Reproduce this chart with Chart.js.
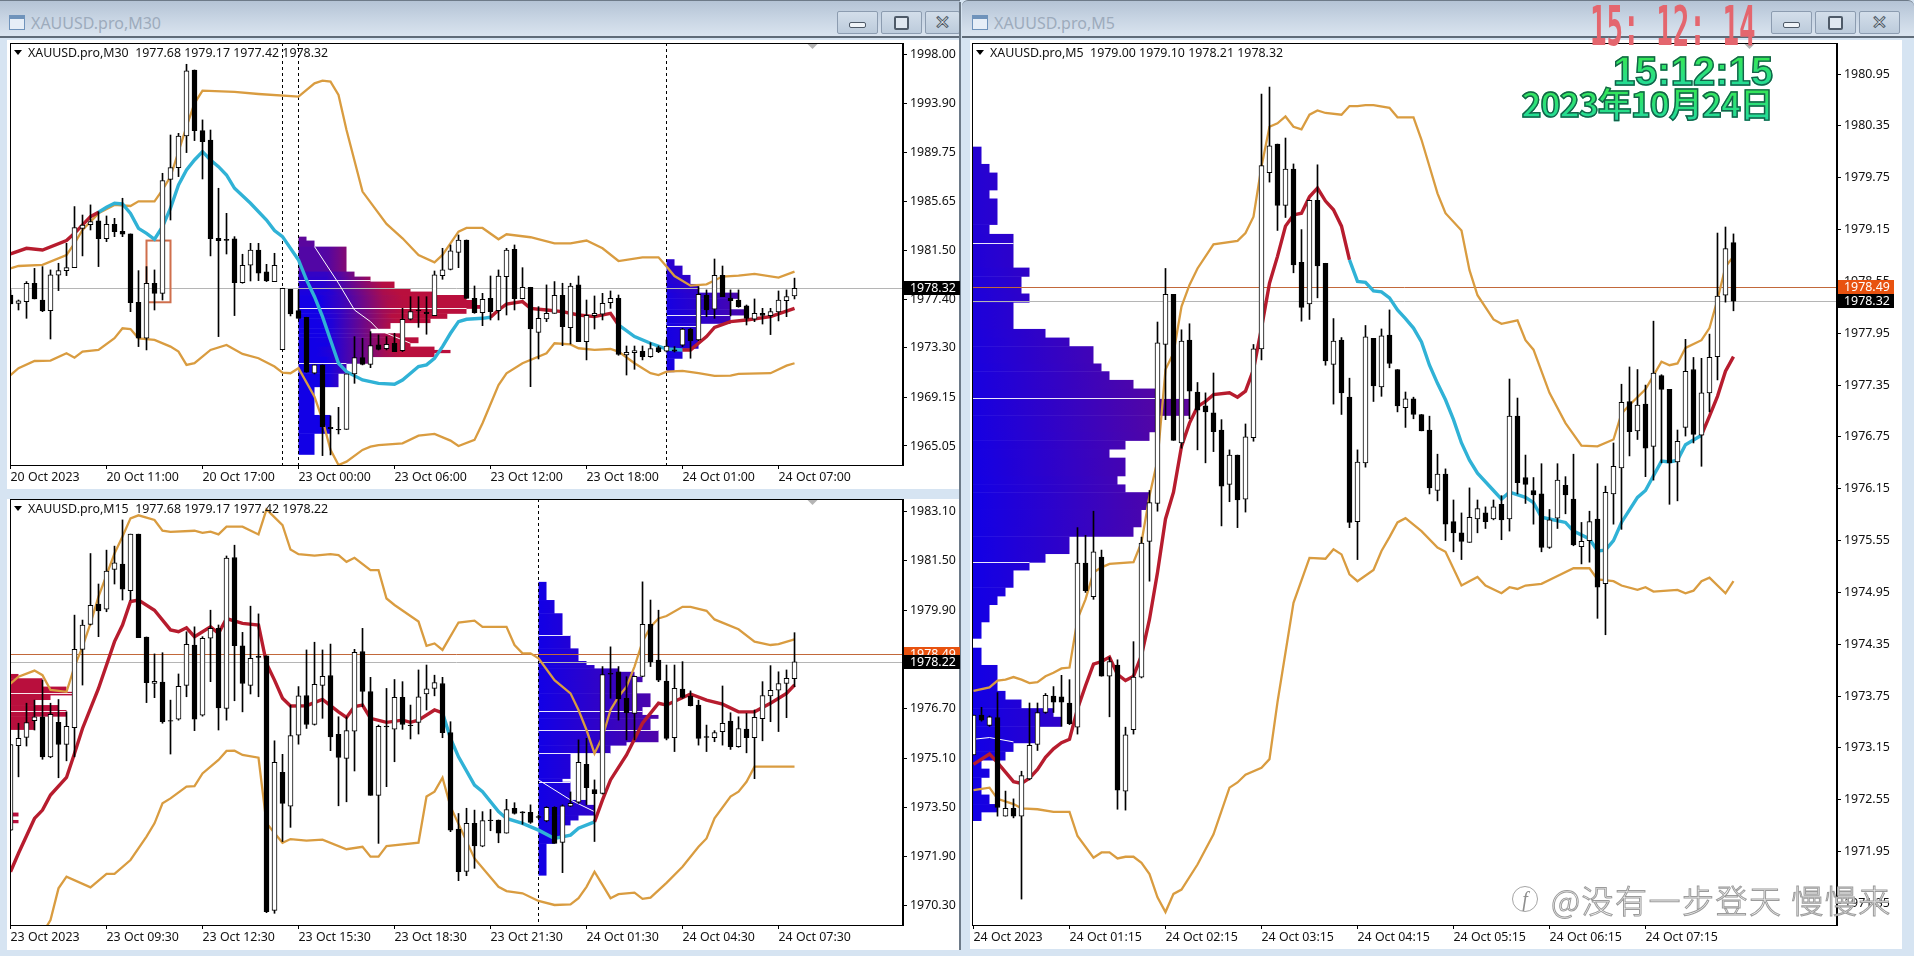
<!DOCTYPE html>
<html>
<head>
<meta charset="utf-8">
<title>XAUUSD</title>
<script src="https://cdn.jsdelivr.net/npm/chart.js@4"></script>
<style>
html, body { margin: 0; padding: 0; }
body { width: 1914px; height: 956px; position: relative; overflow: hidden; background: #d6e4f2; font-family: "Noto Sans", sans-serif; }
.win { position: absolute; background: #d6e4f2; }
.bar { position: absolute; left: 0; right: 0; top: 0; height: 38px; background: linear-gradient(#b4c3d5, #c6d3e2 45%, #dae4ef); border-top: 1px solid #6d7a88; border-bottom: 2px solid #5f6b78; box-sizing: border-box; }
.pane { position: absolute; background: #fff; }
.name { position: absolute; top: 11px; font-size: 16px; color: #9dabbc; line-height: 24px; }
.icon { position: absolute; top: 15px; width: 16px; height: 15px; border: 1px solid #6f93bb; background: #e6eef7; border-top-width: 4px; box-sizing: border-box; }
.btn { position: absolute; top: 11px; width: 41px; height: 23px; border: 1px solid #8c9cb0; box-sizing: border-box; background: linear-gradient(#d3deea, #bccbdb); border-radius: 2px; text-align: center; }
.btn i { position: absolute; box-sizing: border-box; }
.min i { left: 11px; top: 10px; width: 17px; height: 6px; background: #f0f4f8; border: 1px solid #4e5a68; border-radius: 2px; }
.max i { left: 12px; top: 4px; width: 15px; height: 14px; background: #dfe7f0; border: 2px solid #4e5a68; border-radius: 2px; }
.cls { font: bold 19px/21px "DejaVu Sans", sans-serif; color: #f4f7fa; -webkit-text-stroke: 1px #4e5a68; }
canvas { position: absolute; }
.led { position: absolute; left: 1590px; top: -6px; font: bold 55px/64px "DejaVu Sans Mono", monospace; color: #e4666e; transform: scaleX(.5); transform-origin: left top; white-space: pre; }
.clock { position: absolute; right: 141px; font-weight: bold; color: transparent; background: linear-gradient(#3bea3f, #1ed9ac); -webkit-background-clip: text; background-clip: text; -webkit-text-stroke: 1.4px #16604a; white-space: pre; }
.mark { position: absolute; left: 1551px; top: 877px; font: 300 32px/44px "Noto Sans CJK SC", sans-serif; color: #fff; -webkit-text-stroke: 1px #9b9b9b; letter-spacing: 1.5px; white-space: pre; }
.logo { position: absolute; left: 1512px; top: 886px; width: 24px; height: 24px; border: 1px solid #a5a5a5; border-radius: 50%; font: italic 20px/24px "Liberation Serif", serif; color: #8f8f8f; text-align: center; }
</style>
</head>
<body>
<div class="win" style="left:0;top:0;width:960px;height:490px">
  <div class="bar"></div><div class="icon" style="left:9px"></div><div class="name" style="left:31px">XAUUSD.pro,M30</div>
  <div class="btn min" style="left:837px"><i></i></div><div class="btn max" style="left:881px"><i></i></div><div class="btn cls" style="left:925px;width:35px">✕</div>
  <div class="pane" style="left:7px;top:40px;width:953px;height:449px"></div>
</div>
<div class="win" style="left:0;top:498px;width:960px;height:452px">
  <div class="pane" style="left:7px;top:1px;width:953px;height:451px"></div>
</div>
<div class="win" style="left:962px;top:0;width:952px;height:950px">
  <div class="bar" style="border-radius:6px 6px 0 0"></div><div class="icon" style="left:10px"></div><div class="name" style="left:32px">XAUUSD.pro,M5</div>
  <div class="btn min" style="left:809px"><i></i></div><div class="btn max" style="left:853px"><i></i></div><div class="btn cls" style="left:897px">✕</div>
  <div class="pane" style="left:8px;top:40px;width:932px;height:909px"></div>
</div>
<div style="position:absolute;left:959px;top:2px;width:2px;height:948px;background:#6d7a88"></div>
<canvas id="chart-m30" width="950" height="446" style="left:10px;top:43px"></canvas>
<canvas id="chart-m15" width="950" height="451" style="left:10px;top:499px"></canvas>
<canvas id="chart-m5" width="930" height="906" style="left:972px;top:43px"></canvas>
<div class="led">15: 12: 14</div>
<div class="clock" style="top:48px;font-size:40px;line-height:46px;font-family:'Liberation Sans',sans-serif">15:12:15</div>
<div class="clock" style="top:80px;font-size:34px;line-height:46px;font-family:'Noto Sans CJK SC',sans-serif;letter-spacing:-1px">2023年10月24日</div>
<div class="logo">f</div>
<div class="mark">@没有一步登天 慢慢来</div>

<script>
// M30
const m30Open = [1977.75,1977.05,1977.19,1978.74,1977.33,1976.44,1979.41,1979.80,1980.05,1983.36,
1983.67,1983.98,1982.49,1983.70,1983.11,1982.89,1977.14,1974.11,1978.74,1977.89,
1987.48,1988.47,1991.13,1996.68,1991.58,1990.79,1982.52,1982.44,1982.47,1978.79,
1980.25,1981.54,1979.69,1978.88,1973.16,1978.23,1976.44,1975.88,1971.17,1971.87,
1966.62,1966.45,1966.45,1971.11,1972.48,1971.92,1973.55,1973.24,1973.69,1973.07,
1975.71,1976.49,1976.30,1976.02,1979.38,1979.91,1981.34,1982.38,1977.47,1976.27,
1977.47,1976.44,1979.30,1981.60,1977.45,1978.40,1974.61,1975.73,1976.21,1977.73,
1975.01,1978.60,1973.83,1976.02,1976.13,1977.11,1977.47,1972.71,1972.90,1973.02,
1972.57,1973.32,1973.02,1973.13,1973.52,1974.89,1973.97,1977.73,1976.55,1979.41,
1977.50,1977.33,1976.83,1975.71,1976.21,1976.02,1976.32,1977.28,1977.68];
const m30High = [1978.18,1977.33,1978.88,1979.99,1980.14,1979.86,1980.42,1982.10,1985.19,1984.48,
1985.33,1984.76,1984.40,1984.20,1985.89,1982.89,1979.80,1980.14,1979.86,1987.99,
1991.21,1991.35,1997.16,1996.68,1992.48,1991.63,1986.73,1984.62,1982.66,1981.18,
1982.10,1982.10,1980.33,1981.26,1978.32,1978.23,1978.18,1975.88,1971.87,1971.87,
1967.58,1968.30,1971.11,1974.25,1974.11,1974.67,1974.39,1974.25,1974.53,1976.63,
1977.61,1977.61,1977.61,1979.77,1981.68,1981.96,1982.80,1982.38,1978.51,1977.89,
1979.35,1979.86,1981.68,1981.96,1980.05,1978.40,1976.77,1978.60,1978.88,1978.74,
1978.74,1979.35,1977.33,1977.67,1977.89,1978.09,1977.75,1973.46,1973.46,1973.46,
1973.74,1973.46,1973.97,1973.41,1974.95,1974.95,1978.46,1978.18,1980.78,1980.19,
1978.18,1978.18,1976.91,1977.42,1976.63,1976.63,1978.09,1978.18,1979.17];
const m30Low = [1977.00,1976.49,1975.79,1977.42,1976.35,1974.05,1978.12,1979.38,1980.05,1981.04,
1983.22,1980.14,1982.24,1982.66,1982.66,1976.35,1973.41,1973.13,1976.49,1977.33,
1984.06,1987.71,1989.73,1990.74,1987.51,1981.04,1974.25,1981.20,1976.02,1978.74,
1978.93,1978.96,1978.88,1978.88,1973.16,1975.99,1975.79,1971.25,1971.11,1964.24,
1964.30,1966.06,1966.45,1970.32,1971.87,1971.64,1973.13,1973.13,1972.99,1972.99,
1975.65,1975.03,1974.45,1976.02,1979.07,1979.86,1980.05,1977.47,1976.21,1975.17,
1975.65,1975.65,1976.07,1976.49,1977.42,1970.04,1972.37,1975.51,1976.21,1973.49,
1973.63,1973.83,1972.29,1974.89,1975.65,1976.63,1972.68,1971.02,1971.50,1972.29,
1972.51,1972.90,1972.96,1972.96,1973.41,1972.43,1973.91,1975.93,1975.79,1977.61,
1975.99,1976.72,1975.23,1975.51,1975.31,1974.42,1975.57,1975.93,1977.42];
const m30Close = [1977.00,1977.25,1978.74,1977.42,1976.41,1979.44,1979.80,1980.05,1983.42,1983.64,
1983.92,1982.49,1983.70,1983.08,1982.86,1977.11,1974.11,1978.74,1977.89,1987.37,
1988.47,1991.13,1996.60,1991.58,1990.65,1982.49,1982.33,1982.35,1978.79,1980.25,
1981.54,1979.58,1978.93,1980.25,1978.32,1976.16,1975.79,1971.25,1971.87,1966.68,
1966.51,1966.40,1971.11,1972.48,1971.92,1973.49,1973.18,1973.60,1972.99,1975.71,
1976.35,1976.44,1976.18,1979.44,1979.86,1981.46,1982.38,1977.47,1976.27,1977.39,
1976.35,1979.35,1981.54,1977.45,1978.40,1974.89,1975.79,1976.21,1977.73,1975.09,
1978.51,1973.83,1976.04,1976.21,1977.05,1977.47,1972.76,1972.93,1973.07,1972.57,
1973.24,1972.99,1973.46,1973.02,1974.89,1973.91,1977.81,1976.49,1979.41,1977.61,
1977.28,1976.77,1975.79,1976.21,1976.04,1976.35,1977.33,1977.61,1978.32];

const m30UpperBars = [0,1,4,7,8,9,11,13,15,16,18,19,20,22,23,24,28,31,36,38,39,40,41,42,44,47,49,51,53,54,56,57,59,61,62,65,68,70,72,74,76,79,81,82,83,85,87,89,91,93,96,98];
const m30Upper = [1979.99,1980.19,1980.28,1981.12,1982.10,1983.22,1984.62,1985.33,1985.24,1985.63,1985.63,1986.59,1987.71,1991.91,1993.88,1994.94,1994.83,1994.66,1994.44,1995.56,1995.78,1995.70,1994.58,1991.63,1986.45,1983.73,1982.52,1981.12,1980.50,1981.12,1983.08,1983.39,1983.39,1982.44,1982.86,1982.61,1982.10,1982.10,1982.33,1981.68,1980.61,1980.92,1980.92,1980.14,1979.35,1978.54,1978.65,1979.30,1979.38,1979.52,1979.21,1979.72];
const m30LowerBars = [0,1,3,5,7,8,9,11,13,14,15,16,18,20,21,22,23,25,27,29,31,33,34,35,36,38,39,40,41,42,44,45,46,49,51,53,55,56,58,59,61,62,64,67,68,70,71,73,75,76,78,80,81,82,84,86,88,90,91,95,97,98];
const m30Lower = [1971.02,1971.59,1972.20,1972.23,1972.85,1972.48,1972.99,1973.13,1974.11,1974.95,1974.89,1974.11,1973.97,1973.41,1972.99,1971.87,1972.01,1973.13,1973.55,1972.79,1972.43,1971.73,1971.22,1971.17,1971.59,1969.20,1967.24,1964.72,1963.45,1963.73,1964.72,1964.99,1965.13,1965.27,1965.92,1966.06,1965.50,1965.05,1965.56,1966.96,1970.18,1971.17,1972.01,1972.85,1973.69,1973.60,1973.27,1973.13,1973.21,1972.99,1972.01,1971.17,1971.02,1971.30,1971.36,1971.17,1970.94,1970.97,1971.11,1971.17,1971.81,1972.01];
const m30MaBars = [0,2,4,7,8,10,11,12,13,14,15,16,17,18,19,20,21,22,23,24,25,26,27,28,30,32,33,34,36,37,38,39,40,41,42,44,46,48,49,51,52,53,54,55,56,57,59,60,61,62,64,65,67,69,71,73,75,76,78,80,82,84,85,86,87,88,90,92,95,98];
const m30Ma = [1981.20,1981.68,1981.54,1982.33,1982.94,1984.34,1984.71,1985.13,1985.47,1985.41,1984.62,1983.36,1982.94,1982.44,1983.50,1985.05,1987.01,1988.27,1989.11,1989.81,1989.11,1988.55,1987.85,1986.73,1985.47,1984.06,1983.17,1982.66,1980.70,1979.02,1977.61,1975.93,1973.97,1972.01,1971.30,1970.60,1970.32,1970.24,1970.60,1971.73,1971.87,1972.43,1973.41,1974.53,1975.51,1975.71,1975.79,1975.88,1976.49,1976.99,1977.19,1976.63,1976.49,1976.35,1976.07,1975.93,1976.21,1975.23,1974.25,1973.69,1973.21,1973.13,1973.13,1973.69,1974.25,1975.03,1975.51,1975.65,1975.93,1976.63];
const m30MaBlue = [[11,60],[76,84]];
const m30CurveBars = [38,41,43,45,46,50];
const m30Curve = [1981.82,1978.74,1976.49,1975.51,1974.81,1973.69];
const m30ProfileALevels = [1982.66,1982.33,1981.82,1979.72,1979.30,1978.88,1978.32,1978.04,1977.75,1977.33,1976.91,1976.63,1976.21,1975.79,1975.43,1974.95,1974.53,1974.19,1973.74,1973.41,1973.13,1972.90,1972.57,1972.01,1971.17,1970.04,1967.66,1966.12,1964.35];
const m30ProfileAEnds = [37,38,42,43,45,48,50,53,57,58.3,58.75,57,54.6,52.5,47.5,45,48.75,51,50,53,55,53,45,42,41,38,40,38];
const m30ProfileAMarks = [1979.01,1978.32,1976.63,1972.01];
const m30ProfileBLevels = [1980.76,1980.22,1979.44,1978.68,1977.95,1977.47,1976.55,1976.07,1975.37,1973.27,1972.43,1971.30];
const m30ProfileBEnds = [83,84,85,86,91,90,92,90,86,84,83];
const m30ProfileBMarks = [1978.32,1976.07,1975.17];
const m30YTicks = [1998.00,1993.90,1989.75,1985.65,1981.50,1977.40,1973.30,1969.15,1965.05];
const m30XLabels = ['20 Oct 2023','20 Oct 11:00','20 Oct 17:00','23 Oct 00:00','23 Oct 06:00','23 Oct 12:00','23 Oct 18:00','24 Oct 01:00','24 Oct 07:00'];

// M15
const m15Open = [1972.76,1975.50,1975.77,1976.31,1976.44,1975.14,1976.26,1975.54,1976.09,1978.63,
1979.44,1980.10,1979.93,1981.22,1981.40,1980.53,1982.37,1979.03,1977.52,1977.57,
1976.32,1976.36,1977.46,1978.77,1976.49,1978.99,1979.31,1976.71,1981.61,1978.74,
1977.46,1978.41,1978.42,1970.15,1974.64,1973.54,1975.84,1977.13,1976.19,1977.46,
1977.78,1975.87,1975.09,1975.97,1978.56,1977.26,1973.89,1976.14,1976.04,1977.07,
1976.17,1976.26,1977.18,1977.36,1977.52,1975.93,1972.79,1971.42,1972.98,1972.24,
1973.09,1973.09,1972.66,1973.47,1973.35,1973.34,1973.20,1973.06,1973.50,1972.36,
1973.54,1973.67,1974.90,1974.08,1973.95,1977.85,1977.90,1977.04,1976.55,1977.75,
1979.44,1978.28,1977.60,1975.76,1977.34,1977.11,1976.82,1975.80,1975.76,1975.96,
1976.30,1975.47,1976.04,1975.76,1976.38,1977.12,1977.30,1977.52,1977.68];
const m15High = [1975.54,1976.23,1976.88,1976.98,1977.63,1976.88,1977.00,1976.60,1979.74,1979.58,
1981.74,1980.75,1981.85,1981.98,1982.83,1982.37,1982.37,1979.03,1978.48,1978.52,
1976.98,1977.83,1979.20,1979.36,1979.04,1979.90,1979.42,1981.66,1982.01,1979.18,
1980.03,1979.78,1978.42,1975.66,1975.22,1976.82,1977.42,1978.61,1978.86,1978.61,
1978.80,1976.44,1976.44,1978.63,1979.31,1977.72,1976.17,1977.36,1977.65,1977.58,
1976.82,1977.96,1978.12,1977.79,1977.72,1976.28,1973.30,1973.47,1973.41,1973.36,
1973.43,1973.09,1973.76,1973.65,1973.36,1973.58,1973.25,1973.52,1973.52,1973.58,
1974.00,1975.69,1975.74,1974.39,1978.07,1978.71,1978.07,1977.74,1977.76,1980.82,
1980.23,1979.90,1978.12,1978.12,1978.23,1977.28,1976.98,1976.17,1975.99,1977.44,
1976.57,1976.44,1976.55,1976.66,1977.58,1978.10,1977.90,1977.96,1979.17];
const m15Low = [1972.74,1974.49,1975.49,1976.01,1975.06,1975.11,1974.46,1975.01,1975.14,1977.47,
1979.42,1979.04,1979.85,1980.75,1980.23,1980.23,1979.01,1976.90,1977.06,1976.23,
1975.23,1976.33,1977.09,1975.99,1976.46,1977.58,1976.01,1976.33,1976.96,1976.60,
1977.18,1977.09,1970.08,1970.06,1972.39,1972.85,1975.55,1976.06,1976.17,1976.39,
1975.34,1973.55,1973.68,1974.68,1976.77,1973.89,1972.33,1974.17,1974.98,1976.03,
1975.72,1975.88,1976.66,1977.12,1975.76,1972.71,1971.12,1971.28,1971.52,1972.22,
1972.74,1972.35,1972.66,1973.28,1972.95,1972.98,1973.14,1973.03,1972.33,1971.38,
1973.52,1973.63,1973.58,1972.39,1973.93,1977.04,1976.33,1975.69,1975.69,1977.74,
1978.07,1977.58,1975.69,1975.31,1977.04,1976.79,1975.52,1975.31,1975.63,1975.52,
1975.38,1975.45,1975.27,1974.43,1975.66,1976.28,1975.96,1976.41,1977.42];
const m15Close = [1975.54,1975.74,1976.25,1976.44,1975.14,1976.52,1975.54,1976.13,1978.63,1979.42,
1980.06,1979.88,1981.17,1981.44,1980.58,1982.37,1979.01,1977.55,1977.59,1976.28,
1976.30,1977.43,1978.79,1976.36,1978.99,1979.31,1976.73,1981.59,1978.75,1977.52,
1978.34,1978.37,1970.11,1974.96,1973.63,1975.83,1977.12,1976.19,1977.49,1977.75,
1975.79,1975.12,1975.99,1978.53,1977.26,1973.89,1976.13,1976.11,1977.07,1976.19,
1976.15,1977.09,1977.35,1977.55,1975.92,1972.76,1971.41,1972.98,1972.25,1973.07,
1973.07,1972.66,1973.43,1973.30,1973.32,1973.01,1973.17,1973.50,1972.33,1973.55,
1973.63,1974.96,1974.14,1973.94,1977.81,1977.82,1977.02,1976.57,1977.75,1979.44,
1978.22,1977.63,1975.74,1977.36,1977.07,1976.80,1975.74,1975.77,1975.93,1976.23,
1975.47,1976.06,1975.76,1976.42,1977.13,1977.30,1977.52,1977.69,1978.22];

const m15UpperBars = [0,1,3,4,5,7,8,9,10,11,13,14,15,16,18,19,20,23,24,25,26,27,29,31,32,34,35,36,38,40,41,42,43,45,46,47,48,51,52,53,54,56,58,59,62,63,64,65,66,68,70,71,72,73,74,75,76,77,78,79,80,81,82,84,85,87,88,91,93,95,96,98];
const m15Upper = [1977.52,1977.74,1977.94,1977.79,1977.31,1977.25,1978.07,1978.71,1979.47,1980.34,1981.74,1982.29,1982.88,1982.98,1982.83,1982.48,1982.44,1982.48,1982.41,1982.45,1982.36,1982.61,1982.61,1982.36,1983.17,1982.66,1981.87,1981.72,1981.67,1981.72,1981.69,1981.47,1981.60,1981.20,1981.20,1980.28,1980.07,1979.53,1978.74,1978.82,1978.61,1979.50,1979.56,1979.36,1979.36,1978.77,1978.50,1978.50,1978.34,1977.63,1977.20,1976.66,1976.01,1975.25,1975.79,1976.66,1977.09,1977.42,1978.07,1978.88,1979.36,1979.63,1979.71,1980.01,1980.01,1979.88,1979.60,1979.28,1978.88,1978.77,1978.80,1978.95];
const m15LowerBars = [4,5,6,7,10,12,13,15,17,18,19,20,22,23,24,26,27,28,29,31,32,34,35,37,39,42,44,45,46,47,51,52,53,54,55,58,61,62,64,66,68,70,71,72,73,74,75,76,78,79,80,82,84,86,87,88,90,91,92,93,98];
const m15Lower = [1969.41,1969.84,1970.87,1971.25,1970.90,1971.34,1971.34,1971.79,1972.55,1972.98,1973.63,1973.79,1974.17,1974.19,1974.60,1975.04,1975.33,1975.34,1975.20,1975.11,1972.98,1972.35,1972.47,1972.42,1972.45,1972.14,1972.22,1971.90,1971.90,1972.24,1972.35,1973.85,1974.01,1974.46,1973.52,1971.84,1970.92,1970.78,1970.71,1970.46,1970.33,1970.35,1970.55,1970.92,1971.41,1970.98,1970.55,1970.68,1970.73,1970.53,1970.57,1971.05,1971.57,1972.22,1972.49,1973.14,1973.85,1974.01,1974.33,1974.82,1974.82];
const m15MaBars = [0,1,3,4,5,7,8,9,11,13,14,15,16,18,20,21,22,23,25,26,27,29,31,32,33,34,35,37,39,41,42,43,44,45,47,49,50,51,53,54,55,56,58,59,61,62,64,66,68,70,71,73,74,75,77,79,81,82,85,87,89,91,93,95,97,98];
const m15Ma = [1971.41,1972.01,1973.14,1973.41,1973.90,1974.47,1975.25,1976.06,1977.36,1978.88,1979.42,1980.18,1980.23,1979.90,1979.26,1979.20,1979.33,1979.04,1979.36,1979.15,1979.63,1979.47,1979.42,1978.17,1977.63,1977.04,1976.79,1976.80,1977.00,1976.60,1976.42,1976.77,1976.82,1976.39,1976.26,1976.33,1976.26,1976.33,1976.66,1976.57,1975.74,1975.14,1974.22,1974.01,1973.36,1973.14,1972.98,1972.76,1972.49,1972.60,1972.82,1973.03,1973.74,1974.39,1975.20,1976.23,1976.88,1976.82,1977.18,1976.98,1976.85,1976.60,1976.60,1976.88,1977.20,1977.47];
const m15MaBlue = [[54,73]];
const m15CurveBars = [66,70,73];
const m15Curve = [1974.39,1973.74,1973.36];
const m15ProfileALevels = [1977.83,1977.69,1977.42,1977.25,1977.15,1977.00,1976.82,1976.66,1976.46,1976.03,1973.33,1973.22,1973.09,1973.00];
const m15ProfileAEnds = [1,4,7,7.7,5,3,6,7,3,-1,1,-1,1];
const m15ProfileAMarks = [1977.20,1976.63];
const m15ProfileBLevels = [1980.82,1980.23,1979.80,1979.09,1978.66,1978.25,1978.12,1978.01,1977.90,1977.74,1977.58,1977.20,1976.77,1976.50,1976.39,1976.01,1975.63,1975.52,1975.25,1974.44,1974.33,1973.74,1973.58,1973.25,1973.09,1972.93,1972.55,1972.33,1971.30];
const m15ProfileBEnds = [67,68,69,70,71,72,73,76,78,79,78,80,79,81,80,81,77,75,70,69,70,72,73,71,70,69,68,67];
const m15ProfileBMarks = [1979.09,1976.63,1976.01,1975.28,1974.32];
const m15YTicks = [1983.10,1981.50,1979.90,1978.30,1976.70,1975.10,1973.50,1971.90,1970.30];
const m15XLabels = ['23 Oct 2023','23 Oct 09:30','23 Oct 12:30','23 Oct 15:30','23 Oct 18:30','23 Oct 21:30','24 Oct 01:30','24 Oct 04:30','24 Oct 07:30'];

// M5
const m5Open = [1973.07,1973.53,1973.41,1973.50,1972.36,1972.45,1972.36,1972.79,1973.19,1973.56,
1973.75,1973.74,1973.67,1973.39,1975.29,1974.90,1975.36,1973.98,1974.11,1972.65,
1973.36,1973.97,1975.54,1975.98,1977.82,1978.40,1976.68,1977.87,1977.27,1977.11,
1977.03,1976.83,1976.20,1976.54,1976.03,1976.74,1977.77,1979.81,1980.14,1979.43,
1979.85,1978.77,1978.29,1979.49,1978.76,1977.59,1977.87,1977.21,1975.77,1976.45,
1977.89,1977.33,1977.93,1977.53,1977.09,1977.19,1977.01,1976.83,1976.13,1976.32,
1975.77,1975.64,1975.53,1975.80,1975.87,1975.80,1975.97,1975.80,1976.99,1976.28,
1976.13,1976.09,1975.47,1975.81,1976.19,1976.03,1975.48,1975.55,1975.80,1975.05,
1976.09,1976.39,1977.16,1976.82,1977.13,1976.64,1977.46,1977.30,1976.46,1976.86,
1977.53,1976.77,1977.26,1977.68,1978.39,1979.00];
const m5High = [1973.53,1973.62,1973.52,1973.79,1972.65,1972.56,1972.88,1973.67,1973.67,1973.78,
1973.86,1973.99,1973.94,1975.70,1975.61,1975.89,1975.44,1974.20,1974.17,1973.39,
1974.38,1975.59,1976.13,1978.08,1978.70,1978.40,1977.99,1978.06,1977.38,1977.26,
1977.49,1976.95,1976.60,1976.54,1976.90,1977.82,1980.72,1980.80,1980.14,1980.21,
1979.91,1979.15,1979.49,1979.90,1978.76,1978.12,1977.90,1977.43,1976.60,1978.04,
1977.89,1978.00,1978.22,1977.53,1977.27,1977.21,1977.01,1976.99,1976.55,1976.38,
1976.02,1975.87,1976.16,1976.02,1975.94,1976.02,1976.07,1977.42,1977.20,1976.54,
1976.28,1976.44,1975.91,1976.44,1976.29,1976.55,1975.76,1975.89,1976.44,1976.18,
1976.68,1977.36,1977.56,1977.53,1977.35,1978.09,1977.47,1977.30,1976.83,1977.88,
1977.67,1977.66,1977.94,1979.11,1979.18,1979.10];
const m5Low = [1973.07,1973.46,1973.40,1972.36,1972.36,1972.34,1971.40,1972.78,1973.12,1973.55,
1973.56,1973.40,1973.42,1973.31,1974.95,1974.87,1973.98,1973.51,1972.44,1972.43,
1973.31,1973.96,1975.08,1975.89,1976.95,1976.71,1976.62,1976.96,1976.60,1976.45,
1976.58,1975.72,1976.00,1975.70,1975.88,1976.70,1977.64,1979.70,1979.14,1979.29,
1978.65,1978.09,1978.11,1978.36,1977.58,1977.13,1977.01,1975.70,1975.33,1976.40,
1977.16,1977.22,1977.55,1977.04,1976.86,1976.96,1976.82,1976.09,1976.01,1975.55,
1975.42,1975.33,1975.53,1975.64,1975.69,1975.79,1975.56,1975.66,1976.09,1975.98,
1975.74,1975.42,1975.46,1975.69,1975.86,1975.49,1975.28,1975.30,1974.65,1974.46,
1975.74,1975.68,1976.53,1976.72,1976.29,1976.25,1976.45,1975.97,1976.01,1976.76,
1976.68,1976.41,1977.04,1977.41,1978.31,1978.21];
const m5Close = [1973.53,1973.47,1973.51,1972.46,1972.45,1972.36,1972.83,1973.18,1973.56,1973.76,
1973.68,1973.68,1973.43,1975.29,1974.97,1975.42,1973.98,1974.15,1972.66,1973.30,
1973.97,1975.52,1975.99,1977.84,1978.40,1976.71,1977.86,1977.28,1977.06,1977.04,
1976.81,1976.18,1976.54,1976.02,1976.75,1977.77,1979.89,1980.12,1979.43,1979.85,
1978.74,1978.25,1979.49,1978.73,1977.63,1977.86,1977.26,1975.76,1976.46,1977.91,
1977.34,1977.92,1977.60,1977.11,1977.19,1977.01,1976.82,1976.16,1976.32,1975.74,
1975.64,1975.54,1975.82,1975.92,1975.77,1975.94,1975.79,1976.99,1976.22,1976.20,
1976.08,1975.47,1975.79,1976.25,1976.08,1975.50,1975.54,1975.77,1975.01,1976.11,
1976.41,1977.15,1976.81,1977.12,1976.62,1977.49,1977.30,1976.45,1976.70,1977.51,
1976.78,1977.26,1977.67,1978.38,1978.93,1978.32];

const m5UpperBars = [0,2,3,4,5,6,7,8,9,10,11,12,13,14,15,16,17,20,21,22,23,24,25,26,27,28,30,33,34,35,36,37,38,39,40,41,42,43,44,46,47,48,49,50,52,53,55,56,57,58,59,61,62,63,65,66,68,69,70,72,74,76,78,80,81,82,84,86,87,88,89,91,92,93,94,95];
const m5Upper = [1973.81,1973.85,1973.93,1973.94,1973.97,1973.94,1973.90,1973.91,1973.98,1974.02,1974.07,1974.08,1974.64,1974.87,1975.18,1975.24,1975.28,1975.30,1975.53,1976.07,1976.48,1977.53,1977.72,1978.26,1978.51,1978.70,1978.98,1979.02,1979.11,1979.30,1979.88,1980.34,1980.38,1980.46,1980.34,1980.31,1980.48,1980.53,1980.50,1980.48,1980.58,1980.58,1980.59,1980.59,1980.56,1980.45,1980.45,1980.19,1979.88,1979.57,1979.34,1979.14,1978.68,1978.39,1978.11,1978.06,1978.10,1977.87,1977.76,1977.26,1976.91,1976.65,1976.64,1976.72,1977.02,1977.12,1977.30,1977.62,1977.58,1977.60,1977.78,1977.87,1978.01,1978.34,1978.72,1978.84];
const m5LowerBars = [0,2,3,5,6,8,10,12,13,15,16,17,18,19,20,21,22,23,24,25,26,28,30,32,33,34,36,37,38,40,42,44,45,46,47,48,50,51,52,53,54,56,58,59,61,63,64,66,67,68,69,71,73,75,77,78,80,81,83,84,85,88,89,90,91,92,94,95];
const m5Lower = [1972.66,1972.69,1972.56,1972.50,1972.45,1972.44,1972.41,1972.41,1972.13,1971.88,1971.94,1971.94,1971.87,1971.89,1971.89,1971.82,1971.69,1971.42,1971.25,1971.46,1971.51,1971.80,1972.15,1972.69,1972.75,1972.84,1972.92,1973.02,1973.68,1974.83,1975.35,1975.34,1975.45,1975.39,1975.16,1975.08,1975.21,1975.43,1975.59,1975.76,1975.81,1975.66,1975.47,1975.42,1975.03,1975.13,1975.03,1974.94,1975.01,1974.99,1975.03,1975.05,1975.14,1975.23,1975.23,1975.10,1975.08,1975.03,1974.98,1975.01,1974.96,1974.98,1974.94,1974.97,1975.08,1975.12,1974.94,1975.08];
const m5MaBars = [0,2,3,4,5,6,7,8,9,10,11,12,13,14,15,16,17,18,19,20,21,22,23,24,25,26,27,28,29,30,32,33,34,35,36,37,38,39,40,41,42,43,44,45,46,47,48,49,50,51,52,53,54,55,56,57,58,59,60,61,62,63,65,66,67,69,70,71,72,74,75,77,78,79,80,81,83,84,85,86,87,88,89,91,92,93,94,95];
const m5Ma = [1972.96,1973.08,1972.98,1972.87,1972.76,1972.74,1972.80,1972.90,1973.04,1973.14,1973.21,1973.25,1973.60,1973.87,1974.12,1974.15,1974.20,1974.00,1973.93,1973.98,1974.22,1974.64,1975.18,1975.80,1976.11,1976.64,1976.91,1977.10,1977.16,1977.24,1977.26,1977.21,1977.28,1977.53,1978.01,1978.53,1978.84,1979.19,1979.32,1979.34,1979.53,1979.63,1979.48,1979.38,1979.19,1978.80,1978.55,1978.54,1978.44,1978.43,1978.36,1978.22,1978.12,1978.01,1977.85,1977.58,1977.37,1977.18,1976.95,1976.68,1976.48,1976.33,1976.13,1976.03,1976.11,1976.05,1975.99,1975.82,1975.80,1975.76,1975.66,1975.57,1975.43,1975.44,1975.55,1975.76,1976.05,1976.13,1976.30,1976.47,1976.46,1976.48,1976.66,1976.77,1976.99,1977.22,1977.51,1977.68];
const m5MaBlue = [[47,91]];
const m5CurveBars = [0,2,5];
const m5Curve = [1973.25,1973.27,1973.22];
const m5ProfileLevels = [1980.11,1979.91,1979.81,1979.61,1979.51,1979.21,1979.10,1978.71,1978.61,1978.41,1978.31,1978.00,1977.90,1977.80,1977.60,1977.51,1977.41,1977.31,1977.20,1977.00,1976.81,1976.71,1976.61,1976.51,1976.30,1976.20,1976.11,1975.91,1975.71,1975.60,1975.40,1975.30,1975.21,1975.01,1974.91,1974.81,1974.61,1974.42,1974.31,1974.11,1973.81,1973.71,1973.61,1973.51,1973.40,1973.21,1973.11,1973.01,1972.91,1972.81,1972.61,1972.50,1972.41,1972.31];
const m5ProfileEnds = [1,2,3,2,3,2,5,7,6,7,5,9,12,15,16,17,20,23,27,23,22,19,17,19,18,19,22,21,20,12,9,7,5,4,3,2,1,-1,1,3,4,6,10,11,8,5,4,1,2,1,2,3,1];
const m5ProfileMarks = [1979.00,1977.20,1975.30];
const m5YTicks = [1980.95,1980.35,1979.75,1979.15,1978.55,1977.95,1977.35,1976.75,1976.15,1975.55,1974.95,1974.35,1973.75,1973.15,1972.55,1971.95,1971.35];
const m5XLabels = ['24 Oct 2023','24 Oct 01:15','24 Oct 02:15','24 Oct 03:15','24 Oct 04:15','24 Oct 05:15','24 Oct 06:15','24 Oct 07:15'];

const colors = {
    band: '#d99c40',
    red: '#b71c2e',
    blue: '#30b2d6',
    bull: '#ffffff',
    bear: '#000000',
    last: '#b5b5b5',
    ask: '#c2683a',
    askTag: '#e8520f',
    text: '#111111'
};
const FONT = '"Noto Sans", sans-serif';
const FONT_SIZE = 12.4;

Chart.defaults.font.family = FONT;
Chart.defaults.font.size = FONT_SIZE;
Chart.defaults.color = colors.text;

function mixColor(t) {
    // blue -> crimson, same ramp the volume profile uses
    const k = Math.max(0, Math.min(0.92, t));
    const r = Math.round(18 + (200 - 18) * k);
    const g = Math.round(0 + (16 - 0) * k);
    const b = Math.round(230 + (46 - 230) * k);
    return `rgb(${r},${g},${b})`;
}

function drawProfile(ctx, xs, ys, p) {
    const x0 = xs.getPixelForValue(p.start);
    p.ends.forEach((end, r) => {
        if (end <= p.start) return;
        const top = ys.getPixelForValue(p.levels[r]);
        const bottom = ys.getPixelForValue(p.levels[r + 1]);
        const x1 = xs.getPixelForValue(end);
        const lift = p.lift * Math.max(0, (p.levels[r] - p.liftFrom) / (p.levels[0] - p.liftFrom));
        const g = ctx.createLinearGradient(x0, 0, x1, 0);
        for (let s = 0; s <= 8; s++) {
            const bars = (end - p.start) * s / 8;
            g.addColorStop(s / 8, mixColor(p.base + lift + p.gain * Math.max(0, bars - p.flat)));
        }
        ctx.fillStyle = g;
        ctx.fillRect(x0, top, x1 - x0, bottom - top + 0.5);
    });
    ctx.fillStyle = 'rgba(255,255,255,0.9)';
    p.marks.forEach(price => {
        const r = p.levels.findIndex((lv, i) => lv >= price && p.levels[i + 1] < price);
        if (r < 0) return;
        const x1 = xs.getPixelForValue(p.ends[r]);
        ctx.fillRect(x0, Math.round(ys.getPixelForValue(price)), x1 - x0, 1);
    });
}

function decorPlugin(cfg) {
    return {
        id: 'decor',
        beforeDatasetsDraw(chart) {
            const { ctx, chartArea: a, scales: { x: xs, y: ys } } = chart;
            ctx.save();
            ctx.beginPath();
            ctx.rect(a.left, a.top, a.right - a.left, a.bottom - a.top);
            ctx.clip();
            cfg.profiles.forEach(p => drawProfile(ctx, xs, ys, p));
            cfg.hLines.forEach(l => {
                const y = Math.round(ys.getPixelForValue(l.value)) + 0.5;
                ctx.strokeStyle = l.color;
                ctx.lineWidth = 1;
                ctx.beginPath();
                ctx.moveTo(a.left, y);
                ctx.lineTo(a.right, y);
                ctx.stroke();
            });
            ctx.strokeStyle = '#000';
            ctx.lineWidth = 1;
            ctx.setLineDash([3, 3]);
            cfg.vLines.forEach(bar => {
                const x = Math.round(xs.getPixelForValue(bar) - 0.5) + 0.5;
                ctx.beginPath();
                ctx.moveTo(x, a.top);
                ctx.lineTo(x, a.bottom);
                ctx.stroke();
            });
            ctx.setLineDash([]);
            if (cfg.box) {
                ctx.strokeStyle = '#cf6f4c';
                ctx.lineWidth = 2;
                const bx = xs.getPixelForValue(cfg.box.from);
                const by = ys.getPixelForValue(cfg.box.top);
                ctx.strokeRect(bx, by, xs.getPixelForValue(cfg.box.to) - bx, ys.getPixelForValue(cfg.box.bottom) - by);
            }
            ctx.restore();
        },
        afterDraw(chart) {
            const { ctx, chartArea: a, scales: { x: xs, y: ys } } = chart;
            ctx.save();
            // frame
            ctx.strokeStyle = '#000';
            ctx.lineWidth = 1;
            ctx.strokeRect(a.left + 0.5, a.top + 0.5, a.right - a.left - 1, a.bottom - a.top);
            // shift marker
            const sx = xs.getPixelForValue(cfg.shiftBar);
            ctx.fillStyle = '#b4b4b4';
            ctx.beginPath();
            ctx.moveTo(sx - 5, a.top + 1);
            ctx.lineTo(sx + 5, a.top + 1);
            ctx.lineTo(sx, a.top + 6);
            ctx.fill();
            // title
            ctx.fillStyle = '#000';
            ctx.beginPath();
            ctx.moveTo(a.left + 4, a.top + 7);
            ctx.lineTo(a.left + 12, a.top + 7);
            ctx.lineTo(a.left + 8, a.top + 12);
            ctx.fill();
            ctx.font = `${FONT_SIZE}px ${FONT}`;
            ctx.textBaseline = 'middle';
            ctx.textAlign = 'left';
            ctx.fillStyle = colors.text;
            ctx.fillText(cfg.title, a.left + 18, a.top + 10);
            // price tags
            cfg.tags.forEach(t => {
                const y = ys.getPixelForValue(t.value);
                ctx.fillStyle = t.color;
                ctx.fillRect(a.right + 1, Math.round(y) - 7, 56, 14);
                ctx.fillStyle = '#fff';
                ctx.fillText(t.value.toFixed(2), a.right + 7, y + 0.5);
            });
            ctx.restore();
        }
    };
}

function lineSeries(bars, values, color, width, order) {
    return {
        type: 'line',
        data: bars.map((b, i) => ({ x: b, y: values[i] })),
        borderColor: color,
        borderWidth: width,
        pointRadius: 0,
        tension: 0,
        order
    };
}

function maSeries(bars, values, blue) {
    const s = lineSeries(bars, values, colors.red, 3.4, 4);
    const isBlue = x => blue.some(([from, to]) => x >= from && x < to);
    s.segment = { borderColor: c => (isBlue(c.p0.parsed.x) ? colors.blue : colors.red) };
    return s;
}

function candleSeries(open, high, low, close) {
    const bars = open.map((_, i) => i);
    return [
        {
            type: 'bar',
            data: bars.map(i => ({ x: i, y: [low[i], high[i]] })),
            barThickness: 1,
            grouped: false,
            backgroundColor: '#000',
            order: 2
        },
        {
            type: 'bar',
            data: bars.map(i => ({ x: i, y: [open[i], close[i]] })),
            barThickness: 5,
            grouped: false,
            backgroundColor: bars.map(i => (close[i] >= open[i] ? colors.bull : colors.bear)),
            borderColor: '#000',
            borderWidth: 1,
            borderSkipped: false,
            order: 1
        }
    ];
}

function buildChart(id, cfg) {
    const fixPadding = s => {
        s.paddingLeft = s.paddingRight = s.paddingTop = s.paddingBottom = 0;
    };
    return new Chart(document.getElementById(id), {
        type: 'bar',
        data: { datasets: cfg.datasets },
        plugins: [decorPlugin(cfg)],
        options: {
            responsive: false,
            animation: false,
            layout: { padding: 0 },
            plugins: { legend: { display: false }, tooltip: { enabled: false } },
            scales: {
                x: {
                    type: 'linear',
                    offset: false,
                    min: cfg.xMin,
                    max: cfg.xMax,
                    afterBuildTicks: s => { s.ticks = cfg.xLabels.map((_, i) => ({ value: i * 12 })); },
                    afterFit: s => { s.height = cfg.axisHeight; fixPadding(s); },
                    border: { color: '#000' },
                    grid: { offset: false, drawOnChartArea: false, color: '#000', tickLength: 4 },
                    ticks: {
                        align: 'start',
                        autoSkip: false,
                        maxRotation: 0,
                        padding: 1,
                        callback: v => cfg.xLabels[v / 12]
                    }
                },
                y: {
                    position: 'right',
                    min: cfg.yMin,
                    max: cfg.yMax,
                    afterBuildTicks: s => { s.ticks = cfg.yTicks.map(v => ({ value: v })); },
                    afterFit: s => { s.width = cfg.axisWidth; fixPadding(s); },
                    border: { color: '#000' },
                    grid: { drawOnChartArea: false, color: '#000', tickLength: 4 },
                    ticks: { autoSkip: false, padding: 3, callback: v => v.toFixed(2) }
                }
            }
        }
    });
}

buildChart('chart-m30', {
    title: 'XAUUSD.pro,M30  1977.68 1979.17 1977.42 1978.32',
    xMin: -0.0625, xMax: 111.56, yMin: 1963.45, yMax: 1998.95,
    axisWidth: 57, axisHeight: 24,
    yTicks: m30YTicks, xLabels: m30XLabels,
    shiftBar: 100.25,
    vLines: [34, 36, 82],
    hLines: [{ value: 1978.32, color: colors.last }],
    tags: [{ value: 1978.32, color: '#000' }],
    box: { from: 17, to: 20, top: 1982.33, bottom: 1977.14 },
    profiles: [
        { start: 36, levels: m30ProfileALevels, ends: m30ProfileAEnds, marks: m30ProfileAMarks, base: 0, flat: 3.5, gain: 0.11, lift: 0.42, liftFrom: 1977.5 },
        { start: 82, levels: m30ProfileBLevels, ends: m30ProfileBEnds, marks: m30ProfileBMarks, base: 0.01, flat: 0, gain: 0.03, lift: 0.1, liftFrom: 1977 }
    ],
    datasets: [
        lineSeries(m30UpperBars, m30Upper, colors.band, 2.3, 5),
        lineSeries(m30LowerBars, m30Lower, colors.band, 2.3, 5),
        lineSeries(m30CurveBars, m30Curve, '#fff', 1, 4.5),
        maSeries(m30MaBars, m30Ma, m30MaBlue),
        ...candleSeries(m30Open, m30High, m30Low, m30Close)
    ]
});

buildChart('chart-m15', {
    title: 'XAUUSD.pro,M15  1977.68 1979.17 1977.42 1978.22',
    xMin: -0.0625, xMax: 111.56, yMin: 1969.68, yMax: 1983.51,
    axisWidth: 57, axisHeight: 25,
    yTicks: m15YTicks, xLabels: m15XLabels,
    shiftBar: 100.25,
    vLines: [66],
    hLines: [{ value: 1978.49, color: colors.ask }, { value: 1978.22, color: colors.last }],
    tags: [{ value: 1978.49, color: colors.askTag }, { value: 1978.22, color: '#000' }],
    profiles: [
        { start: -1, levels: m15ProfileALevels, ends: m15ProfileAEnds, marks: m15ProfileAMarks, base: 0.92, flat: 0, gain: 0, lift: 0, liftFrom: 1976 },
        { start: 66, levels: m15ProfileBLevels, ends: m15ProfileBEnds, marks: m15ProfileBMarks, base: 0, flat: 0, gain: 0.022, lift: 0, liftFrom: 1976 }
    ],
    datasets: [
        lineSeries(m15UpperBars, m15Upper, colors.band, 2.3, 5),
        lineSeries(m15LowerBars, m15Lower, colors.band, 2.3, 5),
        lineSeries(m15CurveBars, m15Curve, '#fff', 1, 4.5),
        maSeries(m15MaBars, m15Ma, m15MaBlue),
        ...candleSeries(m15Open, m15High, m15Low, m15Close)
    ]
});

buildChart('chart-m5', {
    title: 'XAUUSD.pro,M5  1979.00 1979.10 1978.21 1978.32',
    xMin: -0.1875, xMax: 107.94, yMin: 1971.10, yMax: 1981.31,
    axisWidth: 65, axisHeight: 24,
    yTicks: m5YTicks, xLabels: m5XLabels,
    shiftBar: 97,
    vLines: [],
    hLines: [{ value: 1978.49, color: colors.ask }, { value: 1978.32, color: colors.last }],
    tags: [{ value: 1978.49, color: colors.askTag }, { value: 1978.32, color: '#000' }],
    profiles: [
        { start: -0.1875, levels: m5ProfileLevels, ends: m5ProfileEnds, marks: m5ProfileMarks, base: 0, flat: 0, gain: 0.014, lift: 0.1, liftFrom: 1976 }
    ],
    datasets: [
        lineSeries(m5UpperBars, m5Upper, colors.band, 2.3, 5),
        lineSeries(m5LowerBars, m5Lower, colors.band, 2.3, 5),
        lineSeries(m5CurveBars, m5Curve, '#fff', 1, 4.5),
        maSeries(m5MaBars, m5Ma, m5MaBlue),
        ...candleSeries(m5Open, m5High, m5Low, m5Close)
    ]
});
</script>
</body>
</html>
